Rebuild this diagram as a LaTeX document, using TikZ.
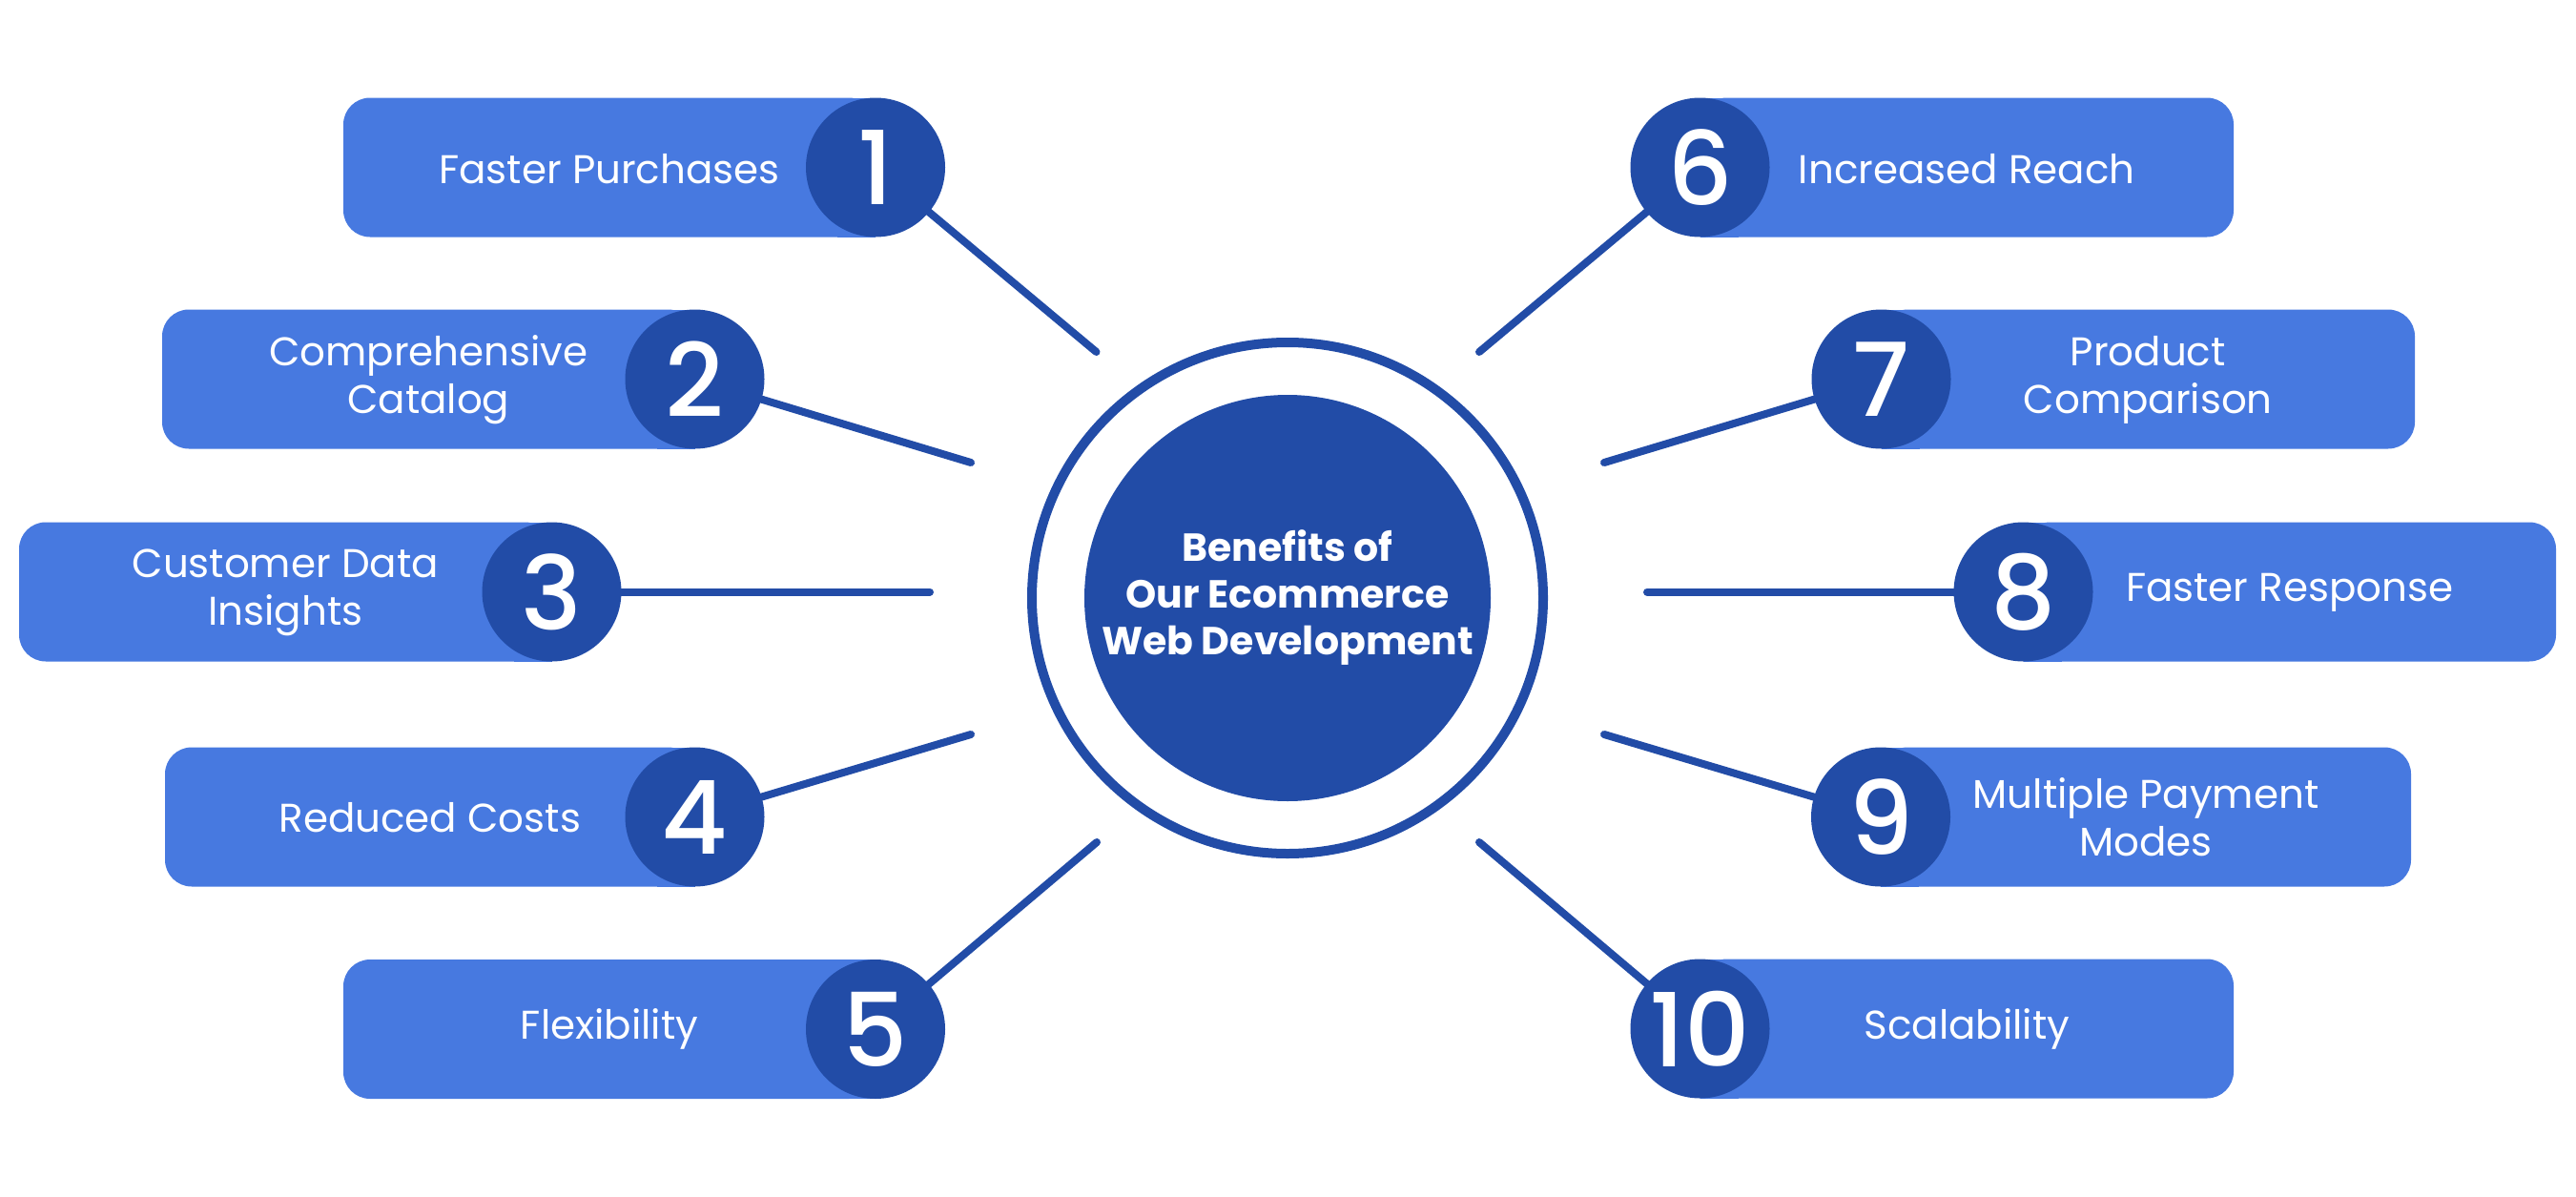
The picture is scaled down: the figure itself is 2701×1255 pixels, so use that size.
\documentclass[tikz,border=0pt]{standalone}
\usepackage{fontspec}
\setmainfont{Poppins}
\newfontfamily\numfont{Poppins Medium}
\definecolor{boxblue}{HTML}{4779E0}
\definecolor{darkblue}{HTML}{224CA7}
\pgfdeclarelayer{bg}
\pgfsetlayers{bg,main}
\tikzset{
  numcirc/.style={circle, fill=darkblue, minimum size=146pt, inner sep=0pt, text=white,
    font=\numfont\fontsize{107}{107}\selectfont},
  lbl/.style={text=white, align=center, anchor=base, inner sep=0pt,
    font=\fontsize{42}{50}\selectfont},
  spoke/.style={draw=darkblue, line width=8pt, line cap=round},
  boxfill/.style={fill=boxblue},
}
% #1 name, #2 number, #3 left x, #4 circle x, #5 circle y, #6 (last) baseline offset, #7 text
\newcommand\LeftBenefit[7]{%
  \fill[boxfill, rounded corners=28pt] (#3,{#5-73}) rectangle (#4,{#5+73});
  \fill[boxfill] ({#4-40},{#5-73}) rectangle (#4,{#5+73});
  \node[lbl] (#1l) at ({(#3+#4)/2},{#5+#6}) {#7};
  \node[numcirc] (#1) at (#4,#5) {#2};
}
% #1 name, #2 number, #3 right x, #4 circle x, #5 circle y, #6 (last) baseline offset, #7 text
\newcommand\RightBenefit[7]{%
  \fill[boxfill, rounded corners=28pt] (#4,{#5-73}) rectangle (#3,{#5+73});
  \fill[boxfill] (#4,{#5-73}) rectangle ({#4+40},{#5+73});
  \node[lbl] (#1l) at ({(#3+#4)/2},{#5+#6}) {#7};
  \node[numcirc] (#1) at (#4,#5) {#2};
}
\begin{document}
\begin{tikzpicture}[x=1pt,y=-1pt]
\useasboundingbox (0,0) rectangle (2701,1255);

% centre
\node[circle, draw=darkblue, line width=10pt, minimum size=536pt, inner sep=0pt] (ring) at (1350,627) {};
\node[circle, fill=darkblue, minimum size=426pt, inner sep=0pt, text=white, align=center,
  font=\bfseries\fontsize{41}{49}\selectfont] (core) at (1350,627)
  {Benefits of\\Our Ecommerce\\Web Development};

% items
\LeftBenefit{b1}{1}{360}{918}{175.5}{16.5}{Faster Purchases}
\LeftBenefit{b2}{2}{170}{728.5}{397.5}{35.5}{Comprehensive\\Catalog}
\LeftBenefit{b3}{3}{20}{578.5}{620.5}{34.5}{Customer Data\\Insights}
\LeftBenefit{b4}{4}{173}{728.5}{856.5}{15.5}{Reduced Costs}
\LeftBenefit{b5}{5}{360}{918}{1079}{10}{Flexibility}
\RightBenefit{b6}{6}{2342}{1782.5}{175.5}{16.5}{Increased Reach}
\RightBenefit{b7}{7}{2532}{1972.5}{397.5}{35.5}{Product\\Comparison}
\RightBenefit{b8}{8}{2680}{2121.5}{620.5}{9.5}{Faster Response}
\RightBenefit{b9}{9}{2528}{1972}{856.5}{40.5}{Multiple Payment\\Modes}
\RightBenefit{b10}{10}{2342}{1782.5}{1078.5}{10.5}{Scalability}

% spoke ends
\coordinate (s1) at (1149.5,369);
\coordinate (s2) at (1018,485);
\coordinate (s3) at (975,620.5);
\coordinate (s4) at (1018,770);
\coordinate (s5) at (1150,883);
\coordinate (s6) at (1551,369);
\coordinate (s7) at (1682,485);
\coordinate (s8) at (1727,620.5);
\coordinate (s9) at (1682,770);
\coordinate (s10) at (1551,883);

\begin{pgfonlayer}{bg}
\foreach \i in {1,...,10} {\draw[spoke] (b\i.center) -- (s\i);}
\end{pgfonlayer}
\end{tikzpicture}
\end{document}
